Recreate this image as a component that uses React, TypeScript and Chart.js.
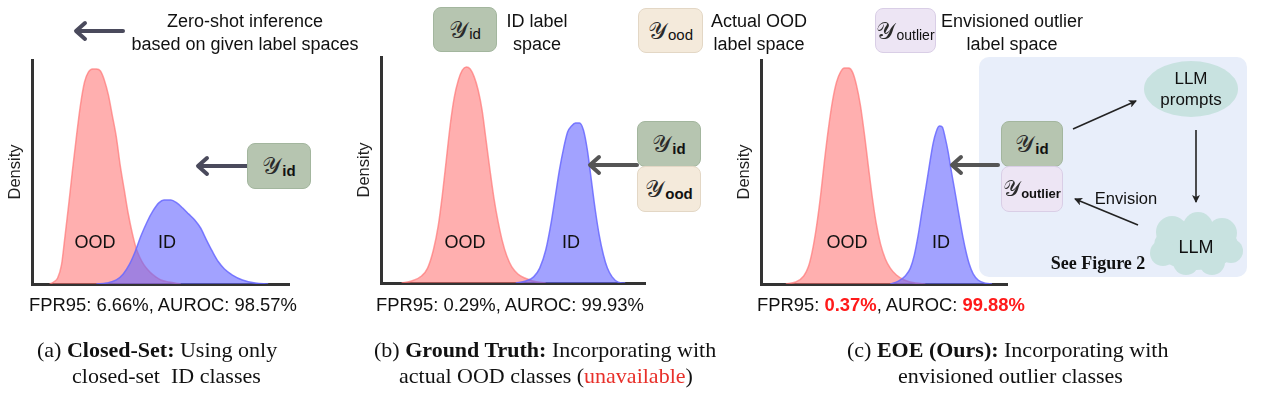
import React, { useEffect, useRef } from "react";
import { Chart, registerables } from "chart.js";
Chart.register(...registerables);

// ---- Data (score on x, density on y, both 0..100) ----
const oodAX = [6.6, 8.1, 9.7, 11.2, 12.4, 14.0, 15.5, 17.1, 18.6, 20.2, 21.7, 23.3, 24.8, 26.4, 27.9, 29.5, 31.0, 32.6, 34.1, 35.7, 37.2, 38.8, 40.3, 41.9, 43.4, 45.0, 46.5, 48.1, 50.0, 53.1, 57.8];
const oodAY = [0, 0.9, 2.7, 8.5, 19.6, 35.3, 50.9, 66.5, 79.9, 90.2, 94.6, 96.0, 96.0, 95.1, 91.1, 84.4, 75.4, 65.6, 53.1, 42.0, 31.7, 22.8, 16.1, 11.6, 8.5, 6.2, 4.5, 3.1, 1.8, 0.9, 0];
const idAX = [24.8, 28.7, 32.6, 35.3, 37.6, 39.9, 42.2, 44.6, 46.9, 49.2, 51.2, 53.9, 56.2, 58.5, 60.9, 63.2, 65.5, 67.8, 70.2, 72.5, 74.8, 77.9, 81.8, 86.8, 91.9];
const idAY = [0, 0.4, 1.8, 4.5, 8.5, 14.3, 21.4, 27.7, 32.6, 36.2, 37.5, 37.5, 36.2, 33.9, 31.2, 28.6, 25.0, 19.6, 14.3, 9.8, 6.7, 4.0, 1.8, 0.4, 0];

const oodBX = [7.5, 11.3, 15.1, 17.4, 19.6, 21.5, 23.0, 24.5, 26.0, 27.5, 29.1, 30.6, 32.1, 33.6, 35.1, 36.6, 38.1, 39.6, 41.1, 42.6, 44.2, 45.7, 47.5, 49.4, 51.7, 54.3, 57.4, 62.3];
const oodBY = [0, 0.9, 3.1, 6.6, 14.6, 25.7, 38.9, 54.4, 69.9, 81.9, 89.8, 94.2, 95.6, 94.7, 91.2, 85.4, 76.5, 63.3, 50.0, 37.6, 27.0, 19.0, 11.9, 7.1, 4.0, 2.2, 0.9, 0];
const idBX = [50.9, 54.7, 57.7, 60.0, 62.3, 64.2, 66.0, 67.5, 69.1, 70.6, 72.1, 73.6, 75.1, 76.6, 78.1, 79.6, 81.1, 82.6, 84.2, 85.7, 87.5, 89.8, 92.5];
const idBY = [0, 0.9, 2.7, 6.6, 14.6, 25.7, 38.9, 50.0, 59.7, 66.8, 69.5, 70.8, 70.8, 67.7, 58.8, 45.6, 32.3, 21.2, 12.4, 6.6, 2.7, 0.4, 0];

const oodCX = [9.8, 13.8, 17.1, 19.1, 20.7, 22.4, 24.0, 25.6, 27.2, 28.9, 30.5, 32.1, 33.7, 35.4, 37.0, 38.6, 40.2, 41.9, 43.5, 45.1, 46.7, 48.4, 50.4, 52.4, 54.9, 58.1, 62.6, 66.7];
const oodCY = [0, 0.9, 3.6, 8.0, 15.2, 26.3, 39.7, 55.4, 69.6, 82.1, 90.2, 94.6, 96.4, 96.4, 94.6, 88.8, 79.9, 66.5, 52.2, 38.4, 26.8, 17.9, 11.2, 7.1, 4.0, 1.8, 0.4, 0];
const idCX = [52.4, 55.7, 58.5, 60.6, 62.2, 63.8, 65.4, 67.1, 68.7, 69.9, 71.1, 72.4, 73.6, 74.8, 76.0, 77.2, 78.5, 79.7, 80.9, 82.1, 83.3, 84.6, 86.2, 88.2, 91.1, 93.9];
const idCY = [0, 1.3, 3.6, 7.1, 12.9, 21.9, 33.0, 44.2, 55.4, 62.9, 67.9, 70.5, 70.1, 65.2, 58.9, 50.9, 42.9, 35.3, 27.7, 20.5, 14.3, 8.9, 4.5, 1.8, 0.4, 0];

const fprValues = ["6.66%", "0.29%", "0.37%"];
const aurocValues = ["98.57%", "99.93%", "99.88%"];

const OOD_FILL = "rgba(255,110,110,0.55)";
const OOD_LINE = "rgba(255,120,120,0.7)";
const ID_FILL = "rgba(100,100,255,0.6)";
const ID_LINE = "rgba(105,105,255,0.85)";
const SANS = "'Liberation Sans', Arial, sans-serif";
const SERIF = "'Liberation Serif', 'Times New Roman', serif";

function pts(xs: number[], ys: number[]) {
  return xs.map((x, i) => ({ x, y: ys[i] }));
}

type PanelProps = {
  left: number; top: number; width: number; height: number;
  oodX: number[]; oodY: number[]; idX: number[]; idY: number[];
};

function DensityPanel(p: PanelProps) {
  const ref = useRef<HTMLCanvasElement>(null);
  useEffect(() => {
    const chart = new Chart(ref.current as HTMLCanvasElement, {
      type: "line",
      data: {
        datasets: [
          {
            label: "ID",
            data: pts(p.idX, p.idY),
            fill: "origin",
            backgroundColor: ID_FILL,
            borderColor: ID_LINE,
            borderWidth: 1.5,
            pointRadius: 0,
            cubicInterpolationMode: "monotone",
          },
          {
            label: "OOD",
            data: pts(p.oodX, p.oodY),
            fill: "origin",
            backgroundColor: OOD_FILL,
            borderColor: OOD_LINE,
            borderWidth: 1.5,
            pointRadius: 0,
            cubicInterpolationMode: "monotone",
          },
        ],
      },
      options: {
        animation: false,
        responsive: false,
        maintainAspectRatio: false,
        layout: { padding: { top: 4, right: 2, bottom: 4, left: 0 } },
        plugins: { legend: { display: false }, tooltip: { enabled: false } },
        scales: {
          x: {
            type: "linear", min: 0, max: 100, display: true,
            ticks: { display: false },
            grid: { display: false, drawTicks: false },
            border: { display: true, color: "#333", width: 3 },
          },
          y: {
            type: "linear", min: 0, max: 100, display: true,
            ticks: { display: false },
            grid: { display: false, drawTicks: false },
            border: { display: true, color: "#333", width: 3 },
            title: {
              display: true, text: "Density", color: "#222",
              font: { family: SANS, size: 16.5 },
              padding: { top: 0, bottom: 7 },
            },
          },
        },
      },
    } as any);
    return () => chart.destroy();
  }, []);
  return (
    <canvas
      ref={ref}
      width={p.width}
      height={p.height}
      style={{ position: "absolute", left: p.left, top: p.top, width: p.width, height: p.height }}
    />
  );
}

function T(props: { x: number; y: number; size?: number; children: any; style?: any; anchor?: "c" | "l" }) {
  const { x, y, size = 18, children, style, anchor = "c" } = props;
  return (
    <div
      style={{
        position: "absolute", left: x, top: y,
        transform: anchor === "c" ? "translate(-50%,-50%)" : "translate(0,-50%)",
        whiteSpace: "nowrap", fontFamily: SANS, fontSize: size, color: "#111", lineHeight: 1,
        ...style,
      }}
    >
      {children}
    </div>
  );
}

function YBox(props: { x: number; y: number; w: number; h: number; fill: string; border: string; sub: string; bold?: boolean; subSize?: number; ySize?: number }) {
  const { x, y, w, h, fill, border, sub, bold, subSize = 15, ySize = 24 } = props;
  return (
    <div
      style={{
        position: "absolute", left: x, top: y, width: w, height: h, boxSizing: "border-box",
        background: fill, border: `1.5px solid ${border}`, borderRadius: 8,
        display: "flex", alignItems: "center", justifyContent: "center", whiteSpace: "nowrap",
      }}
    >
      <span style={{ fontFamily: "'DejaVu Serif', serif", fontSize: ySize, color: "#2a2a2a", lineHeight: 1 }}>𝒴</span>
      <span style={{ fontFamily: SANS, fontSize: subSize, fontWeight: bold ? "bold" : "normal", color: "#111", marginTop: 8, marginLeft: 1 }}>{sub}</span>
    </div>
  );
}

const GREEN = { fill: "#b6c5b0", border: "#a3b69e" };
const BEIGE = { fill: "#f4eadb", border: "#e3d7c5" };
const LILAC = { fill: "#ede5f4", border: "#d9cee6" };

export default function App() {
  const thick = (x1: number, x2: number, y: number, color: string) => (
    <g stroke={color} strokeWidth={4} strokeLinecap="round" strokeLinejoin="round" fill="none">
      <line x1={x1} y1={y} x2={x2 + 1} y2={y} />
      <polyline points={`${x2 + 9},${y - 8} ${x2},${y} ${x2 + 9},${y + 8}`} />
    </g>
  );
  return (
    <div style={{ position: "absolute", left: 0, top: 0, width: 1280, height: 399, background: "#fff", overflow: "hidden" }}>
      {/* panel c background */}
      <div style={{ position: "absolute", left: 979, top: 57, width: 268, height: 220, background: "#e8eefa", borderRadius: 10 }} />

      <DensityPanel left={6} top={56} width={285} height={232} oodX={oodAX} oodY={oodAY} idX={idAX} idY={idAY} />
      <DensityPanel left={355} top={53} width={292} height={234} oodX={oodBX} oodY={oodBY} idX={idBX} idY={idBY} />
      <DensityPanel left={735} top={56} width={274} height={232} oodX={oodCX} oodY={oodCY} idX={idCX} idY={idCY} />

      <svg width={1280} height={399} style={{ position: "absolute", left: 0, top: 0 }}>
        <defs>
          <marker id="ah" markerWidth="8" markerHeight="8" refX="7" refY="4" orient="auto" markerUnits="userSpaceOnUse">
            <path d="M0,0 L8,4 L0,8 L2,4 Z" fill="#222" />
          </marker>
        </defs>
        {thick(123, 76, 31, "#4a4a5c")}
        {thick(247, 198, 166, "#4a4a5c")}
        {thick(637, 590, 165, "#555")}
        {thick(998, 952, 165, "#555")}
        {/* LLM prompts ellipse */}
        <ellipse cx={1191} cy={89} rx={47} ry={28} fill="#c8e2e0" />
        {/* cloud */}
        <g fill="#c8e2e0">
          <ellipse cx={1196} cy={245} rx={42} ry={25} />
          <circle cx={1172} cy={232} r={16} />
          <circle cx={1198} cy={227} r={15} />
          <circle cx={1222} cy={233} r={15} />
          <circle cx={1231} cy={251} r={12} />
          <circle cx={1163} cy={253} r={13} />
          <circle cx={1186} cy={262} r={13} />
          <circle cx={1212} cy={262} r={13} />
        </g>
        <g stroke="#222" strokeWidth={1.6} fill="none">
          <line x1={1073} y1={129} x2={1136} y2={101} markerEnd="url(#ah)" />
          <line x1={1196} y1={130} x2={1196} y2={202} markerEnd="url(#ah)" />
          <line x1={1138} y1={225} x2={1075} y2={199} markerEnd="url(#ah)" />
        </g>
      </svg>

      {/* top annotations */}
      <T x={245} y={21}>Zero-shot inference</T>
      <T x={245} y={44}>based on given label spaces</T>

      <YBox x={433} y={7} w={64} h={45} {...GREEN} sub="id" />
      <T x={537} y={21}>ID label</T>
      <T x={537} y={44}>space</T>
      <YBox x={638} y={8} w={65} h={45} {...BEIGE} sub="ood" />
      <T x={759} y={21}>Actual OOD</T>
      <T x={759} y={44}>label space</T>
      <YBox x={875} y={8} w={61} h={45} {...LILAC} sub="outlier" subSize={14} />
      <T x={1012} y={21}>Envisioned outlier</T>
      <T x={1012} y={44}>label space</T>

      {/* side boxes */}
      <YBox x={247} y={143} w={64} h={46} {...GREEN} sub="id" bold />
      <YBox x={637} y={121} w={64} h={46} {...GREEN} sub="id" bold />
      <YBox x={637} y={166} w={64} h={46} {...BEIGE} sub="ood" bold />
      <YBox x={1001} y={121} w={62} h={46} {...GREEN} sub="id" bold />
      <YBox x={1001} y={166} w={62} h={46} {...LILAC} sub="outlier" bold subSize={13} ySize={22} />

      <T x={1191} y={78} size={17}>LLM</T>
      <T x={1191} y={99} size={17}>prompts</T>
      <T x={1196} y={247} size={18}>LLM</T>
      <T x={1126} y={198} size={16.5}>Envision</T>
      <T x={1098} y={263} size={18} style={{ fontFamily: SERIF, fontWeight: "bold" }}>See Figure 2</T>

      {/* curve labels */}
      <T x={95} y={242}>OOD</T>
      <T x={167} y={242}>ID</T>
      <T x={465} y={242}>OOD</T>
      <T x={571} y={242}>ID</T>
      <T x={847} y={242}>OOD</T>
      <T x={941} y={242}>ID</T>

      {/* metrics */}
      <T x={29} y={305} size={18.4} anchor="l">FPR95: {fprValues[0]}, AUROC: {aurocValues[0]}</T>
      <T x={376} y={305} size={18.4} anchor="l">FPR95: {fprValues[1]}, AUROC: {aurocValues[1]}</T>
      <T x={757} y={305} size={18.4} anchor="l">
        FPR95: <b style={{ color: "#ff1a1a" }}>{fprValues[2]}</b>, AUROC: <b style={{ color: "#ff1a1a" }}>{aurocValues[2]}</b>
      </T>

      {/* captions */}
      <T x={37} y={350} anchor="l" size={22} style={{ fontFamily: SERIF }}>(a) <b>Closed-Set:</b> Using only</T>
      <T x={72} y={376} anchor="l" size={22} style={{ fontFamily: SERIF, whiteSpace: "pre" }}>closed-set  ID classes</T>
      <T x={374} y={350} anchor="l" size={22} style={{ fontFamily: SERIF }}>(b) <b>Ground Truth:</b> Incorporating with</T>
      <T x={399} y={376} anchor="l" size={22} style={{ fontFamily: SERIF }}>actual OOD classes (<span style={{ color: "#e8302a" }}>unavailable</span>)</T>
      <T x={847} y={350} anchor="l" size={22} style={{ fontFamily: SERIF }}>(c) <b>EOE (Ours):</b> Incorporating with</T>
      <T x={898} y={376} anchor="l" size={22} style={{ fontFamily: SERIF }}>envisioned outlier classes</T>
    </div>
  );
}
